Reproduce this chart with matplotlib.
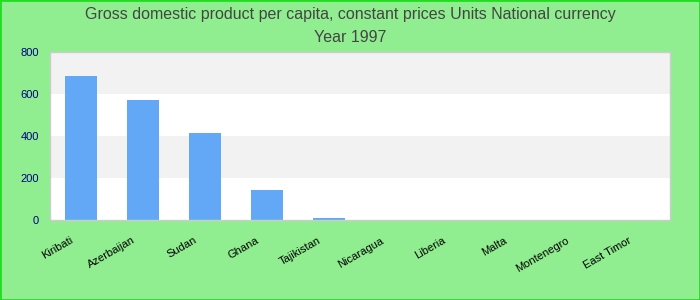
import numpy as np
from matplotlib import pyplot as plt
from matplotlib.patches import Rectangle
from matplotlib.transforms import ScaledTranslation

countries = ['Kiribati', 'Azerbaijan', 'Sudan', 'Ghana', 'Tajikistan',
             'Nicaragua', 'Liberia', 'Malta', 'Montenegro', 'East Timor']
gdp = [686, 573, 412, 142, 9, 0, 0, 0, 0, 0]
yticks = [0, 200, 400, 600, 800]

plt.rcParams['font.family'] = ['Liberation Sans', 'DejaVu Sans']

fig = plt.figure(figsize=(7, 3), dpi=100, facecolor='#90EE90')
fig.patches.append(Rectangle((0, 0), 1, 1, transform=fig.transFigure,
                             fill=False, edgecolor='#22DD22', linewidth=2))

ax = fig.add_axes([50/700, 80/300, 620/700, 168/300])
x = np.arange(len(countries))

# alternating bands
for i in range(len(yticks) - 1):
    col = '#F2F2F2' if i % 2 == 1 else 'white'
    ax.axhspan(yticks[i], yticks[i+1], color=col, zorder=0, lw=0)

ax.bar(x, gdp, width=0.52, color='#62A8F6', zorder=2)
ax.set_xlim(-0.5, 9.5)
ax.set_ylim(0, 800)
ax.set_yticks(yticks)
ax.tick_params(axis='y', length=0, pad=8, labelsize=8, labelcolor='#000080')
ax.set_xticks(x)
ax.set_xticklabels(countries, rotation=30, ha='right', fontsize=8)
ax.tick_params(axis='x', length=0, pad=11)
shift = ScaledTranslation(-6/100, 0, fig.dpi_scale_trans)
for lbl in ax.get_xticklabels():
    lbl.set_transform(lbl.get_transform() + shift)
for s in ax.spines.values():
    s.set_color('#CCCCCC')
    s.set_linewidth(1)

fig.text(0.5, 1 - 14/300, 'Gross domestic product per capita, constant prices Units National currency',
         ha='center', va='center', fontsize=11.5, color='#444444')
fig.text(0.5, 1 - 37/300, 'Year 1997', ha='center', va='center', fontsize=11.5, color='#444444')

plt.savefig('out.png', dpi=100, facecolor=fig.get_facecolor())
